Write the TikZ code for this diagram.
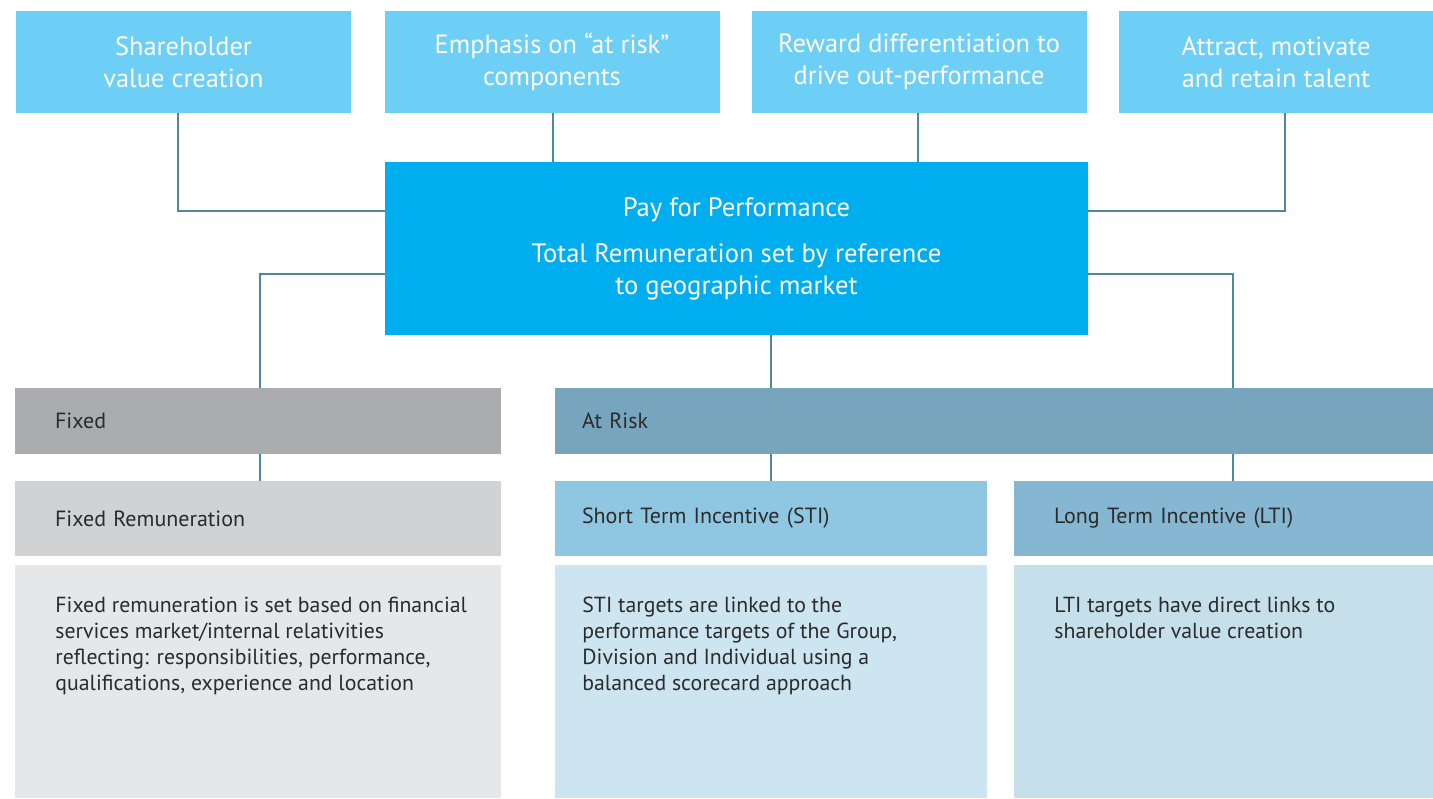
\documentclass[tikz,border=0pt]{standalone}
\usepackage{fontspec}
\setmainfont{PT Sans}
\usetikzlibrary{positioning}
\definecolor{topblue}{HTML}{6DCFF6}
\definecolor{paycyan}{HTML}{00AEEF}
\definecolor{fixgrey}{HTML}{ABACB0}
\definecolor{riskblue}{HTML}{77A5BE}
\definecolor{remgrey}{HTML}{D1D2D4}
\definecolor{stiblue}{HTML}{8FC7E3}
\definecolor{ltiblue}{HTML}{85B7D2}
\definecolor{remtext}{HTML}{E6E7E9}
\definecolor{stitext}{HTML}{CDE5F1}
\definecolor{ltitext}{HTML}{C5DFEB}
\definecolor{linkline}{HTML}{4A8A9A}
\definecolor{ink}{HTML}{2B2B2B}
\tikzset{
  goal/.style={fill=topblue,text=white,minimum width=167.5pt,minimum height=51pt,
    inner sep=0pt,align=center,font=\fontsize{13.2}{16}\selectfont},
  bar/.style={minimum height=33pt,inner ysep=0pt,align=left,text=ink,
    font=\fontsize{11}{13}\selectfont},
  panel/.style={inner sep=0pt},
  blurb/.style={anchor=north west,align=left,inner sep=0pt,text=ink,
    font=\fontsize{10.9}{13}\selectfont},
  link/.style={draw=linkline,line width=0.75pt}
}
\begin{document}
\begin{tikzpicture}[x=0.5pt,y=-0.5pt]
\useasboundingbox (0,0) rectangle (1433,798);
% goals along the top
\node (g1) [goal] at (183.5,62) {Shareholder\\value creation};
\node (g2) [goal] at (552,62) {Emphasis on ``at risk''\\components};
\node (g3) [goal] at (919,62) {Reward differentiation to\\drive out-performance};
\node (g4) [goal,minimum width=157pt] at (1276,62) {Attract, motivate\\and retain talent};
%
\node (pay) [fill=paycyan,text=white,minimum width=351.5pt,minimum height=86.5pt,
  inner sep=0pt,align=center,font=\fontsize{13.3}{16}\selectfont] at (736.5,248.5)
  {Pay for Performance\\[7pt]Total Remuneration set by reference\\to geographic market};
%
\node (fixed) [bar,fill=fixgrey,text width=203pt,inner xsep=20pt] at (258,421) {Fixed};
\node (risk) [bar,fill=riskblue,text width=412pt,inner xsep=13.5pt] at (994,421) {At Risk};
\node (rem) [bar,fill=remgrey,minimum height=37.5pt,text width=203pt,inner xsep=20pt] at (258,518.5) {Fixed Remuneration};
\node (sti) [bar,fill=stiblue,minimum height=37.5pt,text width=189pt,inner xsep=13.5pt] at (771,518.5) {Short Term Incentive (STI)};
\node (lti) [bar,fill=ltiblue,minimum height=37.5pt,text width=169.5pt,inner xsep=20pt] at (1223.5,518.5) {Long Term Incentive (LTI)};
%
\node (remp) [panel,fill=remtext,minimum width=243pt,minimum height=116.5pt] at (258,681.5) {};
\node (stip) [panel,fill=stitext,minimum width=216pt,minimum height=116.5pt] at (771,681.5) {};
\node (ltip) [panel,fill=ltitext,minimum width=209.5pt,minimum height=116.5pt] at (1223.5,681.5) {};
\node (remt) [blurb] at (55,597) {Fixed remuneration is set based on financial\\services market/internal relativities\\reflecting: responsibilities, performance,\\qualifications, experience and location};
\node (stit) [blurb] at (582,597) {STI targets are linked to the\\performance targets of the Group,\\Division and Individual using a\\balanced scorecard approach};
\node (ltit) [blurb] at (1054,597) {LTI targets have direct links to\\shareholder value creation};
%
\coordinate (j1) at (178,211);
\coordinate (j4) at (1285,211);
\coordinate (jf) at (260,274);
\coordinate (jl) at (1233,274);
\draw[link] (g1.south -| j1) |- (pay.west |- j1);
\draw[link] (g4.south -| j4) |- (pay.east |- j4);
\draw[link] (g2.south -| 553,0) -- (pay.north -| 553,0);
\draw[link] (g3.south -| 918,0) -- (pay.north -| 918,0);
\draw[link] (pay.west |- jf) -| (fixed.north -| jf);
\draw[link] (pay.east |- jl) -| (risk.north -| jl);
\draw[link] (pay.south -| 771,0) -- (risk.north -| 771,0);
\draw[link] (fixed.south -| jf) -- (rem.north -| jf);
\draw[link] (risk.south -| 771,0) -- (sti.north -| 771,0);
\draw[link] (risk.south -| jl) -- (lti.north -| jl);
\end{tikzpicture}
\end{document}
